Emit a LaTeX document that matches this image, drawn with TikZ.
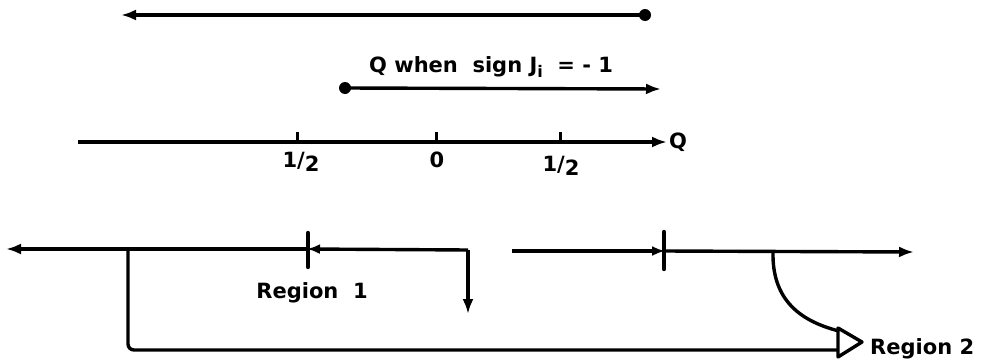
\documentclass[tikz,border=0pt]{standalone}
\usepackage{fontspec}
\setmainfont{DejaVu Sans}
\usetikzlibrary{arrows.meta}
\begin{document}
\begin{tikzpicture}[x=1pt,y=-1pt,
  ln/.style={line width=3.4pt},
  arrowend/.style={-{Latex[length=15pt,width=11pt]}},
  smallhead/.style={-{Latex[length=13pt,width=10pt]}},
  lbl/.style={font=\bfseries\fontsize{21}{24}\selectfont, inner sep=0pt},
  tick/.style={line width=3pt},
  bigtick/.style={line width=4.4pt, line cap=round}]
\useasboundingbox (0,0) rectangle (982,359);

% top line
\coordinate (t1) at (645,15);
\coordinate (t0) at (121,15);
\draw[ln,arrowend] (t1) -- (t0);
\fill (t1) circle (6);

% second line
\coordinate (s0) at (345,88);
\coordinate (s1) at (661,89);
\draw[ln,arrowend] (s0) -- (s1);
\fill (s0) circle (6);
\node[lbl, anchor=base west] (ql) at (369,72) {Q when\ \ sign J\raisebox{-0.45ex}{\fontsize{16}{16}\selectfont i}\ \ = - 1};

% axis
\coordinate (a0) at (78,142);
\coordinate (a1) at (667,142);
\draw[ln,arrowend] (a0) -- (a1);
\node[lbl, anchor=west] (qa) at (669,142) {Q};
\foreach \n/\x in {k1/297,k2/436,k3/560}{
  \coordinate (\n) at (\x,142);
  \draw[tick] (\n) -- ++(0,-10);
}
\node[lbl] (h1) at (301,162) {1/\raisebox{-0.3ex}{2}};
\node[lbl] (z0) at (437,160) {0};
\node[lbl] (h2) at (561,166) {1/\raisebox{-0.3ex}{2}};

% bottom left line
\coordinate (bl0) at (6,249);
\coordinate (blt) at (308,249);
\coordinate (blc) at (468,250);
\coordinate (bld) at (468,314);
\coordinate (bj) at (128,249);
\draw[ln,smallhead,shorten >=-1pt] (blc) -- (blt);
\draw[ln,arrowend] (blt) -- (bl0);
\draw[ln,arrowend] (blc) -- (bld);
\draw[bigtick] (308,233) -- (308,267);
\node[lbl, anchor=base] (r1) at (312,298) {Region\ \ 1};

% bottom right line
\coordinate (br0) at (512,251);
\coordinate (brt) at (664,251);
\coordinate (br1) at (914,252);
\coordinate (bc) at (773,252);
\draw[ln,smallhead,shorten >=-1pt] (br0) -- (brt);
\draw[ln,arrowend] (brt) -- (br1);
\draw[bigtick] (664,232) -- (664,269);

% open arrow head and lines into it
\coordinate (hT) at (838,328);
\coordinate (hP) at (862,342);
\coordinate (hB) at (838,357);
\draw[ln, rounded corners=6pt] (bj) -- (128,350) -- (838,350);
\draw[ln] (bc) .. controls (772,300) and (800,322) .. (843,332);
\draw[ln, fill=white, line join=round] (hT) -- (hP) -- (hB) -- cycle;
\node[lbl, anchor=west] (r2) at (870,349) {Region 2};
\end{tikzpicture}
\end{document}
